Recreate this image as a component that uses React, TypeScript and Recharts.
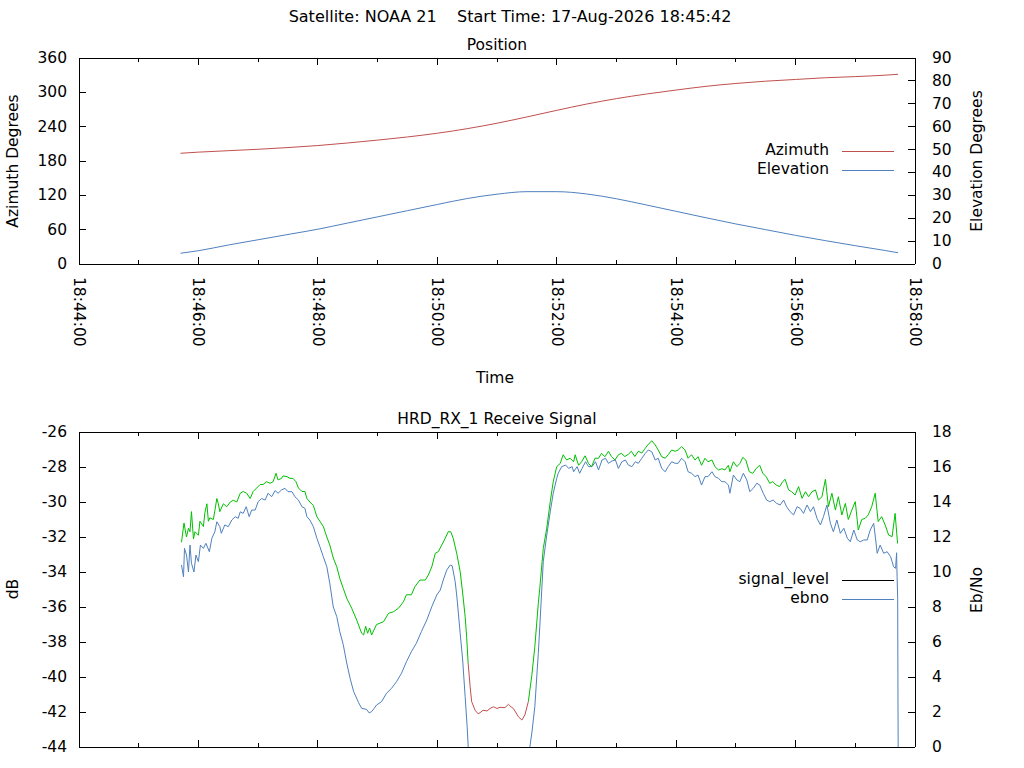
import React from 'react';
import { LineChart, Line, XAxis, YAxis } from 'recharts';

// seconds after 18:44:00
const TIME_TICKS = [0, 60, 120, 180, 240, 300, 360, 420, 480, 540, 600, 660, 720, 780, 840];
const AZ_TICKS = [0, 60, 120, 180, 240, 300, 360];
const EL_TICKS = [0, 10, 20, 30, 40, 50, 60, 70, 80, 90];
const DB_TICKS = [-44, -42, -40, -38, -36, -34, -32, -30, -28, -26];
const EBNO_TICKS = [0, 2, 4, 6, 8, 10, 12, 14, 16, 18];

const POS_T = [102, 120, 150, 180, 210, 240, 270, 300, 330, 360, 390, 420, 450, 480, 510, 540, 570, 600, 630, 660, 690, 720, 750, 780, 810, 823];
const AZIMUTH = [193.5, 195.5, 198, 200.5, 203.5, 207, 211.5, 216.5, 222, 228.5, 236.5, 246, 257, 268.5, 279.5, 289, 297, 304, 310.5, 315.5, 319.5, 322.5, 325.5, 327.5, 330, 331.5];
const ELEVATION = [4.7, 5.8, 8.3, 10.6, 12.9, 15.2, 17.9, 20.6, 23.3, 26.0, 28.6, 30.5, 31.6, 31.6, 30.6, 28.5, 25.8, 23.0, 20.2, 17.5, 15.0, 12.5, 10.2, 8.0, 5.9, 4.9];

// receiver lost lock between these times (signal drawn red)
const UNLOCK_START = 391;
const UNLOCK_END = 451.5;

const SIGNAL_LEVEL: [number, number][] = [
  [103, -32.3], [105.5, -31.2], [108, -32.0], [110, -31.5], [111.5, -31.7], [113, -30.55], [115, -32.1], [116.5, -31.7],
  [120, -31.9], [121.5, -31.1], [125, -31.4], [126.5, -30.6], [128.5, -30.1], [130, -31.1], [131.5, -30.9], [135, -31.0],
  [136.5, -30.5], [138.5, -29.8], [140, -30.1], [141.5, -30.55], [145, -30.1], [148.5, -30.27], [152, -30.0], [155, -29.9],
  [158.5, -30.0], [162, -29.5], [165, -29.4], [168.5, -29.5], [172, -29.8], [175, -29.4], [178.5, -29.2], [182, -29.0],
  [185, -29.0], [188.5, -28.84], [192, -28.93], [195, -28.84], [198, -28.36], [200, -28.74], [203.5, -28.65], [205, -28.51],
  [209, -28.55], [212, -28.65], [215, -28.65], [218, -28.84], [220.5, -29.2], [224, -29.4], [227, -29.4], [229, -29.8],
  [232, -30.0], [235.5, -30.2], [239, -30.84], [242, -31.1], [245.5, -31.4], [249, -32.0], [252, -32.46], [255.5, -33.2],
  [259, -33.7], [262, -34.36], [265.5, -34.93], [269, -35.5], [274, -36.07], [279, -36.74], [284, -37.5], [286, -37.6],
  [288, -37.1], [290, -37.5], [292, -37.2], [294, -37.6], [299, -37.0], [306, -36.84], [311, -36.36], [316, -36.27],
  [321, -36.07], [326, -35.7], [329, -35.3], [334, -35.3], [337.5, -34.84], [342.5, -34.46], [348, -34.46], [351, -34.17],
  [354.5, -33.7], [358, -32.93], [361, -32.84], [364.5, -32.46], [368, -32.07], [371, -31.7], [373.5, -31.7], [376, -32.07],
  [379.5, -32.93], [383, -33.98], [385.5, -35.2], [388, -36.55], [389.5, -37.7], [391, -39.2],
  [393, -40.55], [394.5, -41.4], [398, -41.9], [401, -42.1], [403, -42.04], [406, -41.9], [410, -41.94], [413, -41.8],
  [416.5, -41.7], [420, -41.8], [423, -41.73], [428, -41.75], [431.5, -41.56], [434, -41.7], [436.5, -41.8], [441.5, -42.27],
  [445, -42.46], [448, -42.17], [451.5, -41.4],
  [455, -39.9], [458, -38.27], [461.5, -35.8], [463, -34.93], [466.5, -32.65], [470, -31.5], [473.5, -29.98], [476.5, -28.84],
  [480, -27.98], [483.5, -27.8], [486.5, -27.3], [490, -27.6], [493.5, -27.5], [497, -27.7], [498.5, -27.3], [502, -27.9],
  [505, -27.7], [508.5, -27.36], [512, -27.8], [515, -27.98], [518.5, -27.5], [522, -27.5], [525, -27.22], [528.5, -27.41],
  [532, -27.1], [535, -27.4], [538.5, -27.6], [542, -27.3], [545, -27.22], [548.5, -27.4], [552, -27.27], [555, -27.1],
  [558.5, -27.4], [562, -27.1], [565.5, -27.2], [569, -26.93], [571.5, -26.74], [575.5, -26.5], [579, -26.74], [582, -27.03],
  [585.5, -27.41], [589, -27.5], [592, -27.3], [595.5, -27.03], [599, -27.1], [602, -27.03], [605.5, -26.84], [609, -27.03],
  [612, -27.5], [615.5, -27.3], [619, -27.6], [622, -27.41], [625.5, -27.9], [629, -27.5], [632, -27.7], [636, -27.6],
  [639, -27.98], [642.5, -28.17], [646, -28.1], [649, -28.17], [652.5, -27.9], [654, -28.27], [657.5, -27.7], [661, -27.98],
  [664, -27.8], [667, -27.45], [670, -27.6], [673.5, -28.27], [677, -28.36], [680.5, -28.08], [684, -27.9], [687, -28.36],
  [690.5, -28.55], [694, -28.93], [697, -28.84], [700.5, -29.03], [704, -29.12], [707, -28.84], [709.5, -28.7], [713, -29.31],
  [716, -29.41], [719.5, -29.6], [723, -29.12], [726.5, -29.79], [730, -29.41], [733, -29.7], [736.5, -29.41], [740, -29.31],
  [743, -29.89], [746.5, -29.7], [750, -28.7], [753, -30.27], [756.5, -29.5], [760, -30.46], [763, -29.7], [766.5, -30.74],
  [770, -30.08], [773, -31.0], [776.5, -30.46], [780, -29.98], [783, -31.6], [786.5, -31.0], [790, -30.93], [793, -30.74],
  [796.5, -30.27], [800, -29.5], [803, -31.12], [806.5, -30.84], [810, -31.31], [813.5, -31.89], [817, -31.98], [820, -30.65],
  [822.5, -32.37],
];

const EBNO: [number, number][] = [
  [103, 10.4], [105, 9.73], [106, 11.35], [108, 10.97], [110, 10.0], [111.5, 11.54], [113, 10.5], [115.5, 10.0],
  [117.5, 10.97], [120, 10.59], [122, 11.54], [125, 11.35], [127.5, 11.64], [131, 11.16], [133.5, 11.93], [136.5, 12.3],
  [138.5, 12.87], [141.5, 12.59], [143, 12.21], [146.5, 12.69], [150, 12.59], [153.5, 12.97], [157, 13.16], [160, 13.07],
  [162, 13.44], [165, 13.35], [168, 13.73], [171, 13.16], [173.5, 13.54], [177, 13.54], [180, 14.02], [183.5, 14.2],
  [187, 14.11], [190, 14.5], [193.5, 14.3], [197, 14.65], [200, 14.5], [203.5, 14.69], [207, 14.78], [210, 14.59],
  [214, 14.59], [217, 14.3], [220.5, 14.11], [224, 13.73], [227, 13.64], [229, 13.16], [232, 12.97], [235.5, 12.59],
  [239, 11.93], [242, 11.45], [245.5, 10.87], [249, 10.3], [252, 9.35], [255.5, 8.0], [259, 7.45], [262, 6.6],
  [265.5, 5.85], [269, 4.8], [272.5, 3.9], [276, 3.16], [281, 2.53], [284, 2.21], [289, 2.15], [291.5, 1.95],
  [294, 2.02], [296.5, 2.2], [299, 2.4], [304, 2.59], [309, 3.07], [314, 3.35], [319, 3.73], [324, 4.21],
  [329, 4.87], [334, 5.45], [339, 5.93], [344, 6.59], [349.5, 7.26], [354.5, 8.02], [359.5, 8.69], [363, 8.97],
  [366, 9.54], [369.5, 10.11], [373, 10.4], [375, 10.35], [378, 9.45], [380, 8.4], [383, 6.5], [385.5, 4.97],
  [388, 2.88], [390, 1.16], [392.5, -1.5], [396, -10], [449, -10], [453, 0.0], [455, 0.8], [458, 2.3],
  [461.5, 5.35], [463, 6.87], [466.5, 10.6], [470, 12.11], [473.5, 13.44], [476.5, 14.5], [480, 15.35], [481.5, 15.64],
  [485, 16.02], [489, 16.11], [492, 15.92], [495.5, 16.02], [497, 15.73], [500.5, 16.02], [503, 15.64], [505.5, 15.92],
  [509, 16.3], [512, 16.02], [515.5, 16.02], [519, 16.3], [522, 15.83], [525.5, 16.4], [529, 16.5], [532, 16.21],
  [535.5, 16.34], [539, 16.4], [542, 15.92], [545.5, 16.3], [549, 16.4], [552, 16.11], [555.5, 16.02], [559, 16.3],
  [562, 16.21], [565.5, 16.5], [569, 16.78], [572, 16.97], [575.5, 16.87], [579, 16.4], [582, 16.5], [585.5, 15.92],
  [589, 15.73], [592, 16.02], [595.5, 16.3], [599, 16.21], [602, 16.21], [605.5, 16.5], [609, 16.3], [612, 15.73],
  [615.5, 15.64], [619, 15.45], [622, 15.54], [625.5, 14.97], [629, 15.45], [632, 15.45], [636, 15.73], [639, 15.45],
  [642.5, 15.35], [646, 15.16], [649, 15.16], [652.5, 14.97], [654, 14.5], [657.5, 15.54], [661, 15.26], [664, 15.16],
  [667.5, 15.64], [671, 15.26], [674, 14.59], [677.5, 14.78], [681, 15.07], [684, 14.97], [687.5, 14.5], [691, 14.11],
  [694, 14.02], [697.5, 14.11], [701, 13.92], [704.5, 13.83], [708, 14.11], [711, 13.73], [714.5, 13.45], [718, 13.26],
  [721.5, 13.73], [724.5, 13.64], [728, 13.35], [731.5, 13.83], [735, 13.45], [738, 13.73], [741.5, 13.07], [745, 12.69],
  [748, 13.16], [751.5, 13.83], [755, 12.78], [758, 12.3], [761.5, 12.97], [765, 12.21], [768.5, 12.5], [772, 11.93],
  [775, 11.73], [778.5, 12.4], [782, 11.83], [785, 11.73], [788.5, 11.83], [792, 11.83], [795, 12.4], [798.5, 12.78],
  [800.5, 11.83], [802, 11.07], [805, 11.54], [808.5, 11.07], [812, 11.16], [815.5, 10.87], [817, 10.59], [818.5, 10.3],
  [820.5, 10.21], [821.5, 11.1], [822, 9.73], [822.6, 8.5], [822.9, 2.8], [823.3, -3],
];

const RED = '#C0504D';
const BLUE = '#4F81BD';
const GREEN = '#00C000';
const FONT = '"DejaVu Sans", Verdana, sans-serif';
const FS = 15.5;

const azData = POS_T.map((t, i) => ({ t, v: AZIMUTH[i] }));
const elData = POS_T.map((t, i) => ({ t, v: ELEVATION[i] }));
const ebnoData = EBNO.map(([t, v]) => ({ t, v }));
const lockedData = [
  ...SIGNAL_LEVEL.filter(([t]) => t <= UNLOCK_START).map(([t, v]) => ({ t, v })),
  { t: UNLOCK_START + 1, v: null },
  ...SIGNAL_LEVEL.filter(([t]) => t >= UNLOCK_END).map(([t, v]) => ({ t, v })),
];
const unlockedData = SIGNAL_LEVEL.filter(([t]) => t >= UNLOCK_START && t <= UNLOCK_END).map(([t, v]) => ({ t, v }));

const timeLabel = (t: number) => `18:${44 + t / 60}:00`;

const axisLine = { stroke: '#000', shapeRendering: 'crispEdges' };

const TimeTick = (props: any) => {
  const { x, y, payload, up, labels } = props;
  const major = payload.value % 120 === 0;
  const len = major ? 7 : 4;
  const ty = y + 13;
  return (
    <g>
      <line x1={x} x2={x} y1={y} y2={up ? y - len : y + len} stroke="#000" shapeRendering="crispEdges" />
      {labels && major && (
        <text x={x} y={ty} transform={`rotate(90 ${x} ${ty})`} dominantBaseline="central"
          fontFamily={FONT} fontSize={FS} fill="#000">
          {timeLabel(payload.value)}
        </text>
      )}
    </g>
  );
};

const ValueTick = (props: any) => {
  const { x, y, payload, right } = props;
  return (
    <g>
      <line x1={x} x2={right ? x - 7 : x + 7} y1={y} y2={y} stroke="#000" shapeRendering="crispEdges" />
      <text x={right ? x + 17 : x - 12} y={y} textAnchor={right ? 'start' : 'end'} dominantBaseline="central"
        fontFamily={FONT} fontSize={FS} fill="#000">
        {payload.value}
      </text>
    </g>
  );
};

const Label = ({ x, y, text, rotate, size = FS }: { x: number; y: number; text: string; rotate?: boolean; size?: number }) => (
  <div style={{
    position: 'absolute', left: x, top: y, transform: `translate(-50%, -50%)${rotate ? ' rotate(-90deg)' : ''}`,
    whiteSpace: 'pre', fontFamily: FONT, fontSize: size, color: '#000', lineHeight: 1,
  }}>{text}</div>
);

const LegendItem = ({ y, text, color }: { y: number; text: string; color: string }) => (
  <>
    <div style={{
      position: 'absolute', right: 1024 - 829, top: y, transform: 'translateY(-50%)',
      fontFamily: FONT, fontSize: FS, lineHeight: 1, whiteSpace: 'pre',
    }}>{text}</div>
    <div style={{ position: 'absolute', left: 842, top: y, width: 52, height: 1, background: color }} />
  </>
);

const timeAxes = (labels: boolean) => [
  <XAxis key="b" xAxisId="b" dataKey="t" type="number" domain={[0, 840]} ticks={TIME_TICKS} interval={0}
    allowDataOverflow height={labels ? 30 : 10} tickSize={0} tickMargin={0} tickLine={false} axisLine={axisLine}
    tick={(p: any) => <TimeTick {...p} up labels={labels} />} />,
  <XAxis key="t" xAxisId="t" orientation="top" dataKey="t" type="number" domain={[0, 840]} ticks={TIME_TICKS}
    interval={0} allowDataOverflow height={10} tickSize={0} tickMargin={0} tickLine={false} axisLine={axisLine}
    tick={(p: any) => <TimeTick {...p} />} />,
];

const valueAxis = (id: string, ticks: number[], right: boolean) => (
  <YAxis key={id} yAxisId={id} orientation={right ? 'right' : 'left'} type="number"
    domain={[ticks[0], ticks[ticks.length - 1]]} ticks={ticks} interval={0} allowDataOverflow width={60}
    tickSize={0} tickMargin={0} tickLine={false} axisLine={axisLine}
    tick={(p: any) => <ValueTick {...p} right={right} />} />
);

export default function App() {
  return (
    <div style={{ position: 'absolute', left: 0, top: 0, width: 1024, height: 768, background: '#fff', overflow: 'hidden' }}>
      <div style={{ position: 'absolute', left: 0, top: 0 }}>
        <LineChart width={1024} height={400} margin={{ top: 48, right: 49, bottom: 106, left: 19 }}>
          {timeAxes(true)}
          {valueAxis('az', AZ_TICKS, false)}
          {valueAxis('el', EL_TICKS, true)}
          <Line data={azData} xAxisId="b" yAxisId="az" dataKey="v" type="monotone" stroke={RED} strokeWidth={1}
            dot={false} activeDot={false} isAnimationActive={false} />
          <Line data={elData} xAxisId="b" yAxisId="el" dataKey="v" type="monotone" stroke={BLUE} strokeWidth={1}
            dot={false} activeDot={false} isAnimationActive={false} />
        </LineChart>
      </div>
      <div style={{ position: 'absolute', left: 0, top: 400 }}>
        <LineChart width={1024} height={368} margin={{ top: 22, right: 49, bottom: 11, left: 19 }}>
          {timeAxes(false)}
          {valueAxis('db', DB_TICKS, false)}
          {valueAxis('eb', EBNO_TICKS, true)}
          <Line data={ebnoData} xAxisId="b" yAxisId="eb" dataKey="v" type="linear" stroke={BLUE} strokeWidth={1}
            dot={false} activeDot={false} isAnimationActive={false} />
          <Line data={lockedData} xAxisId="b" yAxisId="db" dataKey="v" type="linear" stroke={GREEN} strokeWidth={1}
            dot={false} activeDot={false} isAnimationActive={false} />
          <Line data={unlockedData} xAxisId="b" yAxisId="db" dataKey="v" type="linear" stroke={RED} strokeWidth={1}
            dot={false} activeDot={false} isAnimationActive={false} />
        </LineChart>
      </div>

      <Label x={510} y={17} size={16} text={'Satellite: NOAA 21    Start Time: 17-Aug-2026 18:45:42'} />
      <Label x={497} y={46} text="Position" />
      <Label x={14} y={161} text="Azimuth Degrees" rotate />
      <Label x={978} y={161} text="Elevation Degrees" rotate />
      <Label x={495} y={379} text="Time" />
      <Label x={497} y={420} text="HRD_RX_1 Receive Signal" />
      <Label x={14} y={589} text="dB" rotate />
      <Label x={978} y={590} text="Eb/No" rotate />

      <LegendItem y={151} text="Azimuth" color={RED} />
      <LegendItem y={170} text="Elevation" color={BLUE} />
      <LegendItem y={580} text="signal_level" color="#000" />
      <LegendItem y={599} text="ebno" color={BLUE} />
    </div>
  );
}
